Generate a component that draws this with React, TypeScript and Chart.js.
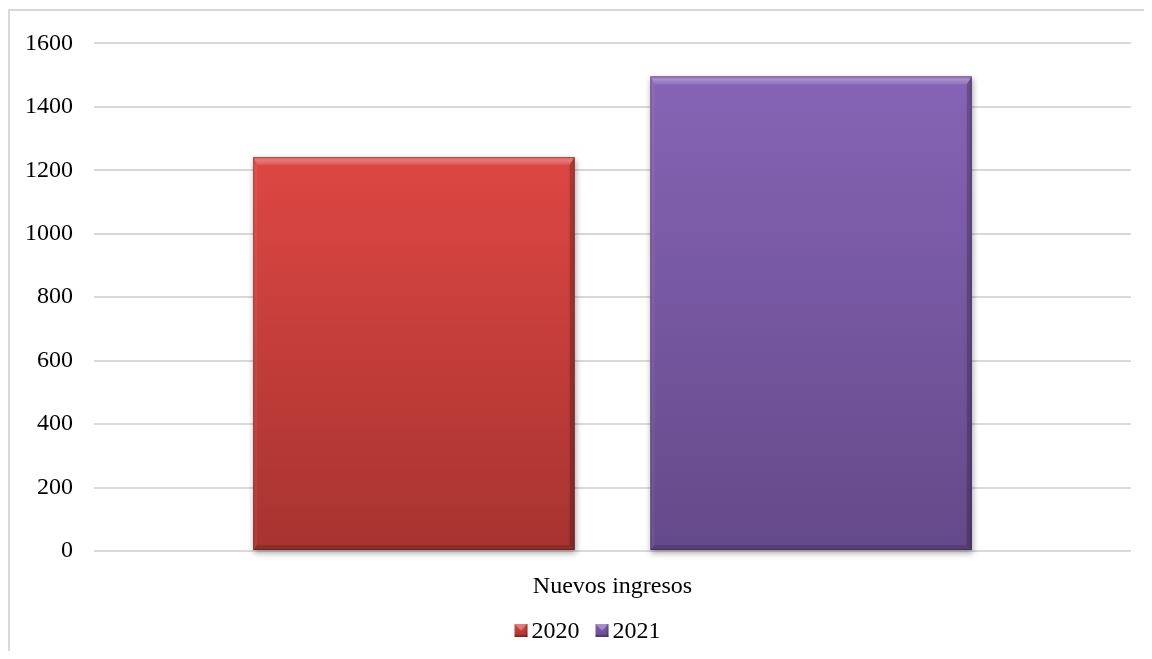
import React, { useEffect, useRef } from "react";
import { Chart, registerables } from "chart.js";

Chart.register(...registerables);

const categories = ["Nuevos ingresos"];
const seriesLabels = ["2020", "2021"];
const values2020 = [1242];
const values2021 = [1496];
const yTicks = { min: 0, max: 1600, step: 200 };

const FONT = "'Liberation Serif', 'Times New Roman', serif";
const palette = [
  { top: "#de4743", bottom: "#a73330", base: "#c0504d" },
  { top: "#8664b6", bottom: "#644989", base: "#8064a2" },
];

const borderPlugin = {
  id: "outerBorder",
  beforeDraw(chart: any) {
    const ctx = chart.ctx;
    ctx.save();
    ctx.fillStyle = "#d9d9d9";
    ctx.fillRect(0, 1, 2, chart.height);
    ctx.fillRect(0, 1, chart.width, 2);
    ctx.restore();
  },
};

const bevelPlugin = {
  id: "bevelBars",
  afterDatasetsDraw(chart: any) {
    const ctx = chart.ctx;
    chart.data.datasets.forEach((ds: any, di: number) => {
      const meta = chart.getDatasetMeta(di);
      const col = palette[di];
      meta.data.forEach((el: any) => {
        const { x, y, base, width } = el.getProps(["x", "y", "base", "width"], true);
        const L = x - width / 2;
        const R = x + width / 2;
        const T = y;
        const B = base;
        ctx.save();
        const g = ctx.createLinearGradient(0, T, 0, B);
        g.addColorStop(0, col.top);
        g.addColorStop(1, col.bottom);
        ctx.shadowColor = "rgba(0,0,0,0.35)";
        ctx.shadowBlur = 6;
        ctx.shadowOffsetX = 1;
        ctx.shadowOffsetY = 3;
        ctx.fillStyle = g;
        ctx.fillRect(L, T, R - L, B - T);
        ctx.shadowColor = "transparent";
        const t = 8, r = 5, b = 5, l = 4;
        const poly = (pts: number[][], fill: any) => {
          ctx.beginPath();
          ctx.moveTo(pts[0][0], pts[0][1]);
          for (let i = 1; i < pts.length; i++) ctx.lineTo(pts[i][0], pts[i][1]);
          ctx.closePath();
          ctx.fillStyle = fill;
          ctx.fill();
        };
        const tg = ctx.createLinearGradient(0, T, 0, T + t);
        tg.addColorStop(0, "rgba(255,255,255,0.12)");
        tg.addColorStop(0.4, "rgba(255,255,255,0.28)");
        tg.addColorStop(1, "rgba(255,255,255,0.08)");
        poly([[L, T], [R, T], [R - r, T + t], [L + l, T + t]], tg);
        poly([[R, T], [R, B], [R - r, B - b], [R - r, T + t]], "rgba(0,0,0,0.22)");
        poly([[L, B], [R, B], [R - r, B - b], [L + l, B - b]], "rgba(0,0,0,0.15)");
        poly([[L, T], [L + l, T + t], [L + l, B - b], [L, B]], "rgba(255,255,255,0.06)");
        ctx.strokeStyle = "rgba(0,0,0,0.22)";
        ctx.lineWidth = 1;
        ctx.strokeRect(L + 0.5, T + 0.5, R - L - 1, B - T - 1);
        ctx.restore();
      });
    });
  },
};

const legendPlugin = {
  id: "customLegend",
  afterDraw(chart: any) {
    const ctx = chart.ctx;
    ctx.save();
    ctx.font = `24px ${FONT}`;
    ctx.textBaseline = "alphabetic";
    const box = 13, gapText = 4, gapItem = 16;
    const items = chart.data.datasets.map((d: any, i: number) => ({
      label: d.label,
      col: palette[i],
      w: ctx.measureText(d.label).width,
    }));
    let total = 0;
    items.forEach((it: any, i: number) => {
      total += box + gapText + it.w + (i < items.length - 1 ? gapItem : 0);
    });
    let x = 579.5 - total / 2;
    const baseline = 630;
    const boxTop = baseline - 14;
    items.forEach((it: any) => {
      const g = ctx.createLinearGradient(0, boxTop, 0, boxTop + box);
      g.addColorStop(0, it.col.top);
      g.addColorStop(1, it.col.bottom);
      ctx.fillStyle = g;
      ctx.fillRect(x, boxTop, box, box);
      ctx.fillStyle = "rgba(255,255,255,0.3)";
      ctx.beginPath();
      ctx.moveTo(x, boxTop);
      ctx.lineTo(x + box, boxTop);
      ctx.lineTo(x + box / 2, boxTop + box / 2);
      ctx.closePath();
      ctx.fill();
      ctx.fillStyle = "rgba(0,0,0,0.2)";
      ctx.fillRect(x + box - 2, boxTop, 2, box);
      ctx.fillRect(x, boxTop + box - 2, box, 2);
      ctx.fillStyle = "#000";
      ctx.fillText(it.label, x + box + gapText, baseline);
      x += box + gapText + it.w + gapItem;
    });
    ctx.restore();
  },
};

export default function App() {
  const ref = useRef<HTMLCanvasElement | null>(null);
  useEffect(() => {
    if (!ref.current) return;
    const chart = new Chart(ref.current, {
      type: "bar",
      data: {
        labels: categories,
        datasets: [
          { label: seriesLabels[0], data: values2020, backgroundColor: palette[0].base },
          { label: seriesLabels[1], data: values2021, backgroundColor: palette[1].base },
        ],
      },
      options: {
        animation: false,
        responsive: true,
        maintainAspectRatio: false,
        layout: { padding: { left: 19, right: 21, top: 32, bottom: 40 } },
        datasets: { bar: { categoryPercentage: 0.766, barPercentage: 0.809 } },
        plugins: { legend: { display: false }, tooltip: { enabled: false } },
        scales: {
          x: {
            grid: { display: false },
            border: { display: false },
            ticks: { color: "#000", font: { family: FONT, size: 24 }, padding: 13 },
            afterFit: (s: any) => { s.height = 60; },
          },
          y: {
            min: yTicks.min,
            max: yTicks.max,
            grid: { color: "#d9d9d9", lineWidth: 2, drawTicks: false },
            border: { display: false },
            ticks: {
              stepSize: yTicks.step,
              color: "#000",
              font: { family: FONT, size: 24 },
              padding: 21,
              callback: (v: any) => String(v),
            },
            afterFit: (s: any) => { s.width = 67; },
          },
        },
      },
      plugins: [borderPlugin, bevelPlugin, legendPlugin],
    });
    return () => chart.destroy();
  }, []);
  return (
    <div style={{ width: 1144, height: 643, position: "relative" }}>
      <canvas ref={ref} />
    </div>
  );
}
